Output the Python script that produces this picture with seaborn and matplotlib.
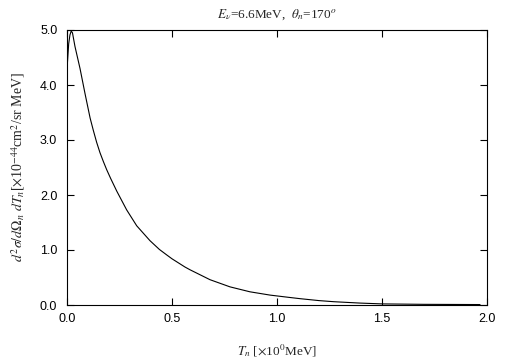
import matplotlib
matplotlib.use('Agg')
import matplotlib.pyplot as plt
import seaborn as sns
import pandas as pd

# neutron kinetic energy T_n [MeV] and double differential cross section [1e-44 cm^2/sr MeV]
t_n = [0.0005, 0.001, 0.002, 0.008, 0.014, 0.020, 0.026, 0.038, 0.062, 0.086,
       0.110, 0.125, 0.141, 0.157, 0.173, 0.189, 0.208, 0.237, 0.284, 0.332,
       0.395, 0.44, 0.475, 0.50, 0.562, 0.586, 0.681, 0.776, 0.871, 0.967,
       1.054, 1.11, 1.20, 1.27, 1.395, 1.50, 1.70, 1.967]
xsec = [3.36, 4.00, 4.40, 4.75, 4.91, 4.98, 4.95, 4.70, 4.30, 3.84,
        3.40, 3.18, 2.96, 2.77, 2.61, 2.46, 2.30, 2.07, 1.73, 1.44,
        1.17, 1.01, 0.91, 0.84, 0.69, 0.64, 0.46, 0.33, 0.24, 0.18,
        0.14, 0.115, 0.08, 0.06, 0.035, 0.02, 0.012, 0.008]

x_ticks = [0.0, 0.5, 1.0, 1.5, 2.0]
y_ticks = [0.0, 1.0, 2.0, 3.0, 4.0, 5.0]

sns.set_style('ticks')
plt.rcParams['font.family'] = ['Liberation Sans', 'DejaVu Sans']
plt.rcParams['mathtext.fontset'] = 'stix'

df = pd.DataFrame({'T': t_n, 'sig': xsec})

fig = plt.figure(figsize=(5.05, 3.61), dpi=100)
ax = fig.add_axes([67 / 505, 56 / 361, 420 / 505, 275 / 361])

sns.lineplot(data=df, x='T', y='sig', sort=False, estimator=None,
             color='black', lw=0.8, ax=ax)

ax.set_xlim(0, 2.0)
ax.set_ylim(0, 5.0)
ax.set_xticks(x_ticks)
ax.set_yticks(y_ticks)
ax.set_xticklabels([f'{v:.1f}' for v in x_ticks])
ax.set_yticklabels([f'{v:.1f}' for v in y_ticks])
ax.tick_params(direction='in', length=5, width=0.8, top=True, right=True,
               labelsize=9, colors='black')
ax.tick_params(axis='x', pad=6)
ax.tick_params(axis='y', pad=7)
for s in ax.spines.values():
    s.set_visible(True)
    s.set_color('black')
    s.set_linewidth(0.8)

serif = ['Liberation Serif', 'DejaVu Serif']
ax.set_title(r'$E_\nu$=6.6MeV,  $\theta_n$=170$^o$', fontsize=9.5,
             family=serif, pad=9)
ax.set_xlabel(r'$T_n$ [$\times$10$^0$MeV]', fontsize=9.5, family=serif,
              labelpad=12)
ax.set_ylabel(r'$d^2\sigma/d\Omega_n\ dT_n$[$\times$10$^{-44}$cm$^2$/sr MeV]',
              fontsize=10, family=serif, labelpad=9)

fig.savefig('out.png', dpi=100)
